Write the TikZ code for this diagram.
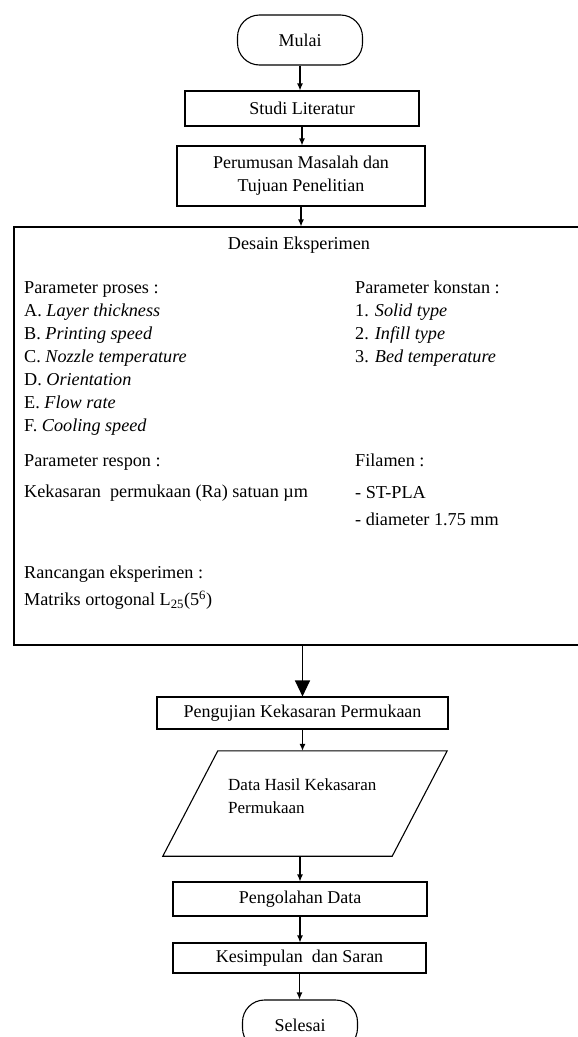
\documentclass[tikz,border=0pt]{standalone}
\usepackage{fontspec}
\setmainfont{Liberation Serif}
\usetikzlibrary{arrows.meta}

\begin{document}
\begin{tikzpicture}[x=1bp, y=-1bp,
	box/.style={draw, line width=1.1bp, inner sep=0pt, align=center, font=\fontsize{18bp}{23bp}\selectfont},
	term/.style={box, rounded corners=22bp},
	txt/.style={inner sep=0pt, align=left, anchor=base west, font=\fontsize{18.2bp}{23bp}\selectfont},
	arr/.style={line width=1.1bp, -{Latex[length=7bp, width=6bp]}},
	bigarr/.style={line width=1.1bp, -{Triangle[length=16bp, width=15bp]}}]
	
	\useasboundingbox (0,0) rectangle (578,1037);
	
	\node [term, minimum width=125bp, minimum height=50bp] (mulai) at (300,40) {Mulai};
	\node [box, minimum width=234bp, minimum height=35bp] (studi) at (302,108.5) {Studi Literatur};
	\node [box, minimum width=248bp, minimum height=60bp] (rumusan) at (301,176) {Perumusan Masalah dan\\Tujuan Penelitian};
	
	\node [box, minimum width=576bp, minimum height=418bp] (desain) at (302,436) {};
	\node [txt, anchor=base] (judul) at (299,249.5) {Desain Eksperimen};
	\node [txt] (proses) at (24,431.5) {Parameter proses :\\
		A. \textit{Layer thickness}\\
		B. \textit{Printing speed}\\
		C. \textit{Nozzle temperature}\\
		D. \textit{Orientation}\\
		E. \textit{Flow rate}\\
		F. \textit{Cooling speed}};
	\node [txt] (konstan) at (355,362.5) {Parameter konstan :\\
		1. \textit{Solid type}\\
		2. \textit{Infill type}\\
		3. \textit{Bed temperature}};
	\node [txt] (respon) at (24,466) {Parameter respon :};
	\node [txt] (ra) at (24,497.5) {Kekasaran \ permukaan (Ra) satuan µm};
	\node [txt] (filamen) at (355,466) {Filamen :};
	\node [txt] (stpla) at (355,498.5) {- ST-PLA};
	\node [txt] (diameter) at (355,525.5) {- diameter 1.75 mm};
	\node [txt] (rancangan) at (24,578.5) {Rancangan eksperimen :};
	\node [txt] (matriks) at (24,605.5) {Matriks ortogonal L\textsubscript{25}(5\textsuperscript{6})};
	
	\node [box, minimum width=291bp, minimum height=32bp] (uji) at (302.5,713) {Pengujian Kekasaran Permukaan};
	\node [inner sep=0pt, minimum width=284bp, minimum height=105bp] (data) at (305,803.5) {};
	\draw [line width=1.1bp] ([xshift=55bp]data.north west) -- (data.north east) -- ([xshift=-55bp]data.south east) -- (data.south west) -- cycle;
	\node [txt, font=\fontsize{17bp}{23bp}\selectfont] (datatxt) at (228,813.5) {Data Hasil Kekasaran\\Permukaan};
	\node [box, minimum width=254bp, minimum height=34bp] (olah) at (300,899) {Pengolahan Data};
	\node [box, minimum width=253bp, minimum height=30bp] (simpul) at (299.5,958) {Kesimpulan \ dan Saran};
	\node [term, minimum width=115bp, minimum height=50bp] (selesai) at (300,1025) {Selesai};
	
	\draw [arr] (mulai) -- (mulai |- studi.north);
	\draw [arr] (studi) -- (studi |- rumusan.north);
	\draw [arr] (rumusan) -- (rumusan |- desain.north);
	\draw [bigarr] (uji |- desain.south) -- (uji);
	\draw [arr] (uji) -- (uji |- data.north);
	\draw [arr] (olah |- data.south) -- (olah);
	\draw [arr] (olah) -- (olah |- simpul.north);
	\draw [arr] (simpul) -- (simpul |- selesai.north);
	
\end{tikzpicture}
\end{document}
